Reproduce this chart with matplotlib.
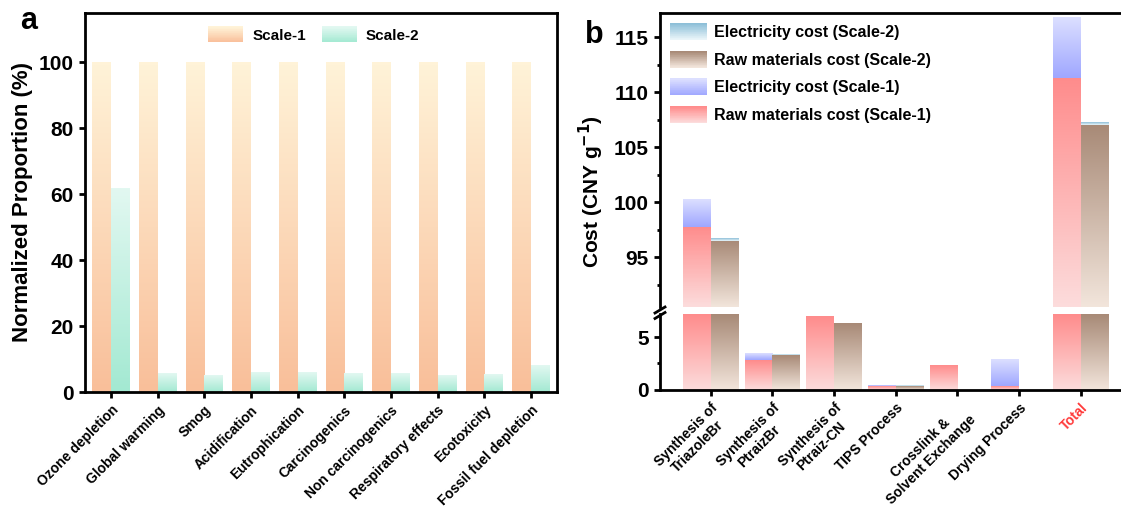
import matplotlib
matplotlib.use("Agg")
import matplotlib.pyplot as plt
import numpy as np
from matplotlib.colors import LinearSegmentedColormap
from matplotlib.legend_handler import HandlerBase
from matplotlib.patches import Rectangle
from matplotlib.lines import Line2D

plt.rcParams['font.family'] = ['Liberation Sans', 'DejaVu Sans']
plt.rcParams['font.weight'] = 'bold'
plt.rcParams['mathtext.default'] = 'bf'

# panel a data
impacts = ['Ozone depletion', 'Global warming', 'Smog', 'Acidification', 'Eutrophication',
           'Carcinogenics', 'Non carcinogenics', 'Respiratory effects', 'Ecotoxicity',
           'Fossil fuel depletion']
scale1 = [100, 100, 100, 100, 100, 100, 100, 100, 100, 100]
scale2 = [61.7, 5.5, 4.9, 5.8, 5.8, 5.6, 5.5, 4.9, 5.2, 7.9]

# panel b data
steps = ['Synthesis of\nTriazoleBr', 'Synthesis of\nPtraizBr', 'Synthesis of\nPtraiz-CN',
         'TIPS Process', 'Crosslink &\nSolvent Exchange', 'Drying Process', 'Total']
raw1 = [97.8, 2.77, 7.05, 0.29, 2.36, 0.29, 111.3]
elec1 = [2.47, 0.58, 0.0, 0.09, 0.0, 2.55, 5.5]
raw2 = [96.5, 3.32, 6.31, 0.30, 0.0, 0.0, 107.05]
elec2 = [0.2, 0.02, 0.0, 0.02, 0.0, 0.0, 0.25]

# colours (bottom, top)
c_s1 = ('#F9BF9A', '#FFF3D8')
c_s2 = ('#A3E9D2', '#E2F8F1')
c_raw1 = ('#FCDCDC', '#FF8C8C')
c_el1 = ('#9FA7FF', '#DCDFFF')
c_raw2 = ('#F2E5DB', '#A88A77')
c_el2 = ('#EAF5F9', '#8DBFD8')

W, H = 1121, 507
fig = plt.figure(figsize=(W / 100, H / 100), dpi=100)


def box(l, r, t, b):
    return [l / W, 1 - b / H, (r - l) / W, (b - t) / H]


def grad_bar(ax, x, w, y0, y1, cols):
    lo, hi = ax.get_ylim()
    a, b = max(y0, lo), min(y1, hi)
    if b <= a:
        return
    cmap = LinearSegmentedColormap.from_list('', list(cols))
    g = np.linspace(0, 1, 100).reshape(-1, 1)
    ax.imshow(g, extent=(x - w / 2, x + w / 2, a, b), origin='lower', aspect='auto',
              cmap=cmap, interpolation='bilinear', zorder=2)


class GradHandler(HandlerBase):
    def create_artists(self, legend, orig_handle, xdescent, ydescent, width, height, fontsize, trans):
        cmap = LinearSegmentedColormap.from_list('', list(orig_handle.cols))
        n = 24
        arts = []
        for i in range(n):
            r = Rectangle((-xdescent, -ydescent + height * i / n), width, height / n + 0.3,
                          facecolor=cmap(i / (n - 1)), edgecolor='none', transform=trans)
            arts.append(r)
        return arts


def grad_handle(cols):
    h = Rectangle((0, 0), 1, 1)
    h.cols = cols
    return h


def style(ax):
    for s in ax.spines.values():
        s.set_linewidth(2.0)
    ax.tick_params(which='major', direction='out', length=4.5, width=2.0, labelsize=15)
    ax.tick_params(which='minor', direction='out', length=2.5, width=2.0)


# ---------------- panel a
axa = fig.add_axes(box(85, 557, 13, 392))
axa.set_xlim(-0.56, 9.56)
axa.set_ylim(0, 115)
bw = 0.4
for i in range(len(impacts)):
    grad_bar(axa, i - bw / 2, bw, 0, scale1[i], c_s1)
    grad_bar(axa, i + bw / 2, bw, 0, scale2[i], c_s2)
axa.set_xlim(-0.56, 9.56)
axa.set_ylim(0, 115)
style(axa)
axa.set_yticks([0, 20, 40, 60, 80, 100])
axa.set_xticks(range(len(impacts)))
axa.set_xticklabels(impacts, rotation=45, ha='right', rotation_mode='anchor', fontsize=10)
axa.set_ylabel('Normalized Proportion (%)', fontsize=16, fontweight='bold', labelpad=4)
axa.legend([grad_handle(c_s1), grad_handle(c_s2)], ['Scale-1', 'Scale-2'],
           handler_map={Rectangle: GradHandler()}, loc='upper center', ncol=2, frameon=False,
           fontsize=11, handlelength=2.3, handleheight=1.2, handletextpad=0.6,
           columnspacing=1.0, bbox_to_anchor=(0.485, 1.0))
fig.text(29 / W, 1 - 21 / H, 'a', fontsize=22, fontweight='bold', ha='center', va='center')

# ---------------- panel b (broken axis)
axt = fig.add_axes(box(660, 1121, 13, 307))
axb = fig.add_axes(box(660, 1121, 314, 389.5))
top_lim = (90.5, 117.2)
bot_lim = (0, 7.2)
xl = (-0.82, 6.65)
bw = 0.45
for ax, lim in ((axt, top_lim), (axb, bot_lim)):
    ax.set_xlim(*xl)
    ax.set_ylim(*lim)
    for i in range(len(steps)):
        grad_bar(ax, i - bw / 2, bw, 0, raw1[i], c_raw1)
        grad_bar(ax, i - bw / 2, bw, raw1[i], raw1[i] + elec1[i], c_el1)
        grad_bar(ax, i + bw / 2, bw, 0, raw2[i], c_raw2)
        grad_bar(ax, i + bw / 2, bw, raw2[i], raw2[i] + elec2[i], c_el2)
    ax.set_xlim(*xl)
    ax.set_ylim(*lim)
    style(ax)
    ax.spines['right'].set_visible(False)

axt.spines['bottom'].set_visible(False)
axt.set_xticks([])
axt.set_yticks([95, 100, 105, 110, 115])
axt.set_yticks([92.5, 97.5, 102.5, 107.5, 112.5], minor=True)
axb.spines['top'].set_visible(False)
axb.set_yticks([0, 5])
axb.set_yticks([2.5], minor=True)
axb.set_xticks(range(len(steps)))
labs = axb.set_xticklabels(steps, rotation=45, ha='right', rotation_mode='anchor',
                           fontsize=10, multialignment='center')
labs[-1].set_color('#FF3B3B')

axt.legend([grad_handle(c_el2), grad_handle(c_raw2), grad_handle(c_el1), grad_handle(c_raw1)],
           ['Electricity cost (Scale-2)', 'Raw materials cost (Scale-2)',
            'Electricity cost (Scale-1)', 'Raw materials cost (Scale-1)'],
           handler_map={Rectangle: GradHandler()}, loc='upper left', frameon=False,
           fontsize=11.5, handlelength=2.3, handleheight=1.2, labelspacing=0.7,
           handletextpad=0.4, borderaxespad=0.25)

fig.text(591 / W, 1 - 192 / H, 'Cost (CNY g$^{-1}$)', rotation=90, fontsize=15,
         fontweight='bold', ha='center', va='center')
fig.text(594 / W, 1 - 35 / H, 'b', fontsize=22, fontweight='bold', ha='center', va='center')

# break marks on left spine
for dy in (0, 5.5):
    fig.add_artist(Line2D([655 / W, 665 / W], [1 - (313 + dy) / H, 1 - (307 + dy) / H],
                          color='black', lw=2.0, transform=fig.transFigure))

fig.savefig('out.png', dpi=100)
